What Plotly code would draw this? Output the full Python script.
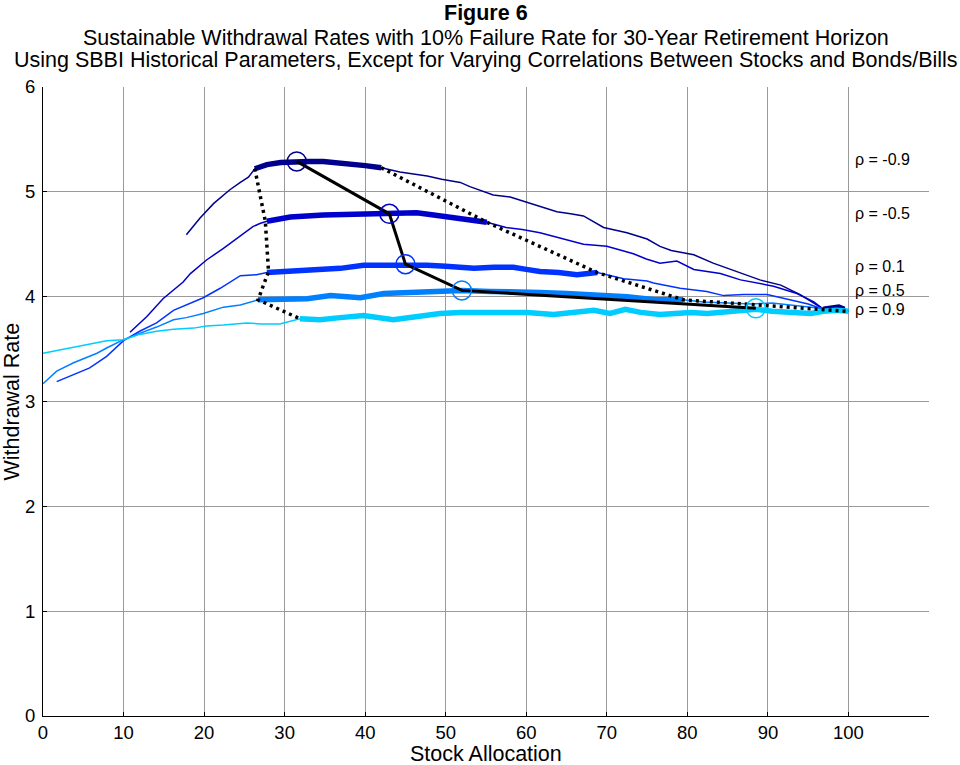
import plotly.graph_objects as go

# ---------------- data ----------------
labels = ["ρ = -0.9", "ρ = -0.5", "ρ = 0.1", "ρ = 0.5", "ρ = 0.9"]
label_y = [5.31, 4.79, 4.29, 4.06, 3.88]
colors = ["#00008C", "#0000CC", "#0033FF", "#0080FF", "#00CCFF"]

m09_x = [17.8, 19.5, 21.2, 23.2, 24.5, 25.5, 26.3, 27.8, 29.5, 31.5, 33, 34.8, 36.5, 38.1, 40, 42,
         44.3, 46, 47.7, 49.5, 51.8, 53, 55.9, 58, 60.9, 63.8, 65.5, 67.1, 69.6, 72.5, 75, 76.6,
         78, 79.5, 80.8, 83.2, 86.2, 89, 91.6, 94, 96.1, 96.9, 97.8, 98.8, 99.5, 100]
m09_y = [4.59, 4.75, 4.89, 5.02, 5.09, 5.14, 5.22, 5.26, 5.28, 5.29, 5.29, 5.29, 5.28, 5.27, 5.25, 5.23,
         5.19, 5.17, 5.15, 5.12, 5.09, 5.05, 4.97, 4.95, 4.88, 4.81, 4.79, 4.77, 4.66, 4.61, 4.55, 4.48,
         4.44, 4.42, 4.40, 4.32, 4.24, 4.16, 4.11, 4.02, 3.92, 3.88, 3.89, 3.90, 3.88, 3.86]

m05_x = [10.8, 12.9, 14.9, 17.4, 18.3, 20.3, 22.4, 24.5, 26.1, 27, 27.8, 30.7, 34.8, 38.9, 40.5, 43,
         46.4, 48.5, 50.1, 52.5, 55.1, 57.5, 59.5, 61.7, 64.2, 67.1, 70, 73.3, 74.9, 76.6, 78.7, 80.8,
         84.1, 86.6, 90.7, 93.6, 95.7, 96.7, 97.8, 98.8, 99.5, 100]
m05_y = [3.66, 3.81, 3.98, 4.14, 4.22, 4.35, 4.46, 4.58, 4.67, 4.70, 4.72, 4.76, 4.78, 4.79, 4.79, 4.80,
         4.80, 4.78, 4.76, 4.74, 4.71, 4.66, 4.64, 4.61, 4.56, 4.50, 4.48, 4.41, 4.36, 4.32, 4.34, 4.26,
         4.22, 4.16, 4.10, 4.03, 3.95, 3.89, 3.89, 3.90, 3.88, 3.86]

p01_x = [1.7, 3.8, 5.8, 7.9, 10, 12, 14.1, 16.2, 18.3, 19.9, 22, 24.5, 26.5, 27.8, 30, 32.8, 35, 36.9,
         39.8, 42.3, 45, 47.7, 50, 51.8, 53.5, 56, 58.4, 60, 61.7, 64, 66.3, 68.8, 70.5, 72.1, 75, 75.8,
         79.1, 82.4, 84.5, 87, 89.9, 92.8, 95, 96.5, 97.8, 98.8, 99.5, 100]
p01_y = [3.19, 3.26, 3.32, 3.43, 3.58, 3.67, 3.75, 3.87, 3.94, 3.99, 4.08, 4.20, 4.21, 4.23, 4.24, 4.25, 4.26, 4.27,
         4.30, 4.30, 4.31, 4.30, 4.29, 4.28, 4.27, 4.28, 4.28, 4.26, 4.24, 4.23, 4.21, 4.23, 4.20, 4.17, 4.15, 4.13,
         4.08, 4.05, 4.01, 4.02, 4.02, 3.97, 3.93, 3.89, 3.89, 3.90, 3.88, 3.86]

p05_x = [0, 1.7, 3.8, 5, 6.7, 7.9, 10, 12, 14.1, 16.2, 17.8, 19.9, 22.4, 24.5, 26.7, 28, 29.9, 32.8,
         35.7, 37.5, 39.4, 42.3, 46.4, 50, 52, 55.5, 58, 61.7, 65, 68, 72.5, 76, 79.5, 82, 85, 88,
         90.5, 93, 96.5, 98, 99, 100]
p05_y = [3.17, 3.29, 3.37, 3.41, 3.46, 3.51, 3.59, 3.65, 3.71, 3.78, 3.80, 3.84, 3.90, 3.92, 3.97, 3.97, 3.97, 3.98,
         4.01, 4.00, 3.99, 4.03, 4.04, 4.05, 4.06, 4.05, 4.05, 4.04, 4.03, 4.02, 4.00, 3.97, 3.97, 3.95, 3.94, 3.93,
         3.94, 3.92, 3.89, 3.89, 3.90, 3.87]

p09_x = [0, 2.1, 3.8, 5.8, 7.9, 10, 12, 14.1, 16.2, 18.7, 20.3, 22.4, 24.5, 25.3, 27, 29.4, 31.9, 34.4,
         36.9, 39.8, 43.5, 46.8, 49.3, 51.8, 56.8, 60.1, 63.4, 66, 68.4, 70.4, 72.3, 74.2, 76.6, 78.5,
         80.4, 82.5, 84.5, 86.5, 88.5, 90.5, 92.8, 95.3, 96.9, 98.5, 100]
p09_y = [3.46, 3.49, 3.52, 3.55, 3.58, 3.59, 3.64, 3.67, 3.69, 3.70, 3.72, 3.73, 3.74, 3.75, 3.74, 3.74, 3.79, 3.78,
         3.80, 3.82, 3.78, 3.82, 3.84, 3.85, 3.85, 3.85, 3.83, 3.85, 3.87, 3.84, 3.88, 3.85, 3.83, 3.84,
         3.85, 3.84, 3.85, 3.86, 3.88, 3.86, 3.85, 3.84, 3.86, 3.87, 3.86]

curves_x = [m09_x, m05_x, p01_x, p05_x, p09_x]
curves_y = [m09_y, m05_y, p01_y, p05_y, p09_y]

# ranges of stock allocation drawn with a thick line
thick_ranges = [[(26.3, 42.0), (96.9, 99.5)],
                [(27.8, 55.1)],
                [(27.8, 68.8)],
                [(26.7, 79.5)],
                [(31.9, 100)]]

# optimum points (circles)
opt_x = [31.5, 43, 45, 52, 88.5]
opt_y = [5.29, 4.79, 4.31, 4.06, 3.89]

# boundaries of the thick ranges (dotted)
lb_x = [26.3, 27.6, 28.0, 26.7, 31.9]
lb_y = [5.22, 4.72, 4.24, 3.97, 3.79]
rb_x = [42.0, 55.1, 68.8, 79.5, 100]
rb_y = [5.23, 4.71, 4.23, 3.97, 3.86]

x_ticks = list(range(0, 101, 10))
y_ticks = list(range(0, 7))

# ---------------- figure ----------------
FONT = "Liberation Sans, Arial, sans-serif"
fig = go.Figure()

for cx, cy, col in zip(curves_x, curves_y, colors):
    fig.add_trace(go.Scatter(x=cx, y=cy, mode="lines",
                             line=dict(color=col, width=1.5), hoverinfo="skip"))

for cx, cy, col, rngs in zip(curves_x, curves_y, colors, thick_ranges):
    for lo, hi in rngs:
        sx = [a for a in cx if lo <= a <= hi]
        sy = [b for a, b in zip(cx, cy) if lo <= a <= hi]
        fig.add_trace(go.Scatter(x=sx, y=sy, mode="lines",
                                 line=dict(color=col, width=5.5), hoverinfo="skip"))

fig.add_trace(go.Scatter(x=lb_x, y=lb_y, mode="lines",
                         line=dict(color="black", width=3.5, dash="3px,4px"), hoverinfo="skip"))
fig.add_trace(go.Scatter(x=rb_x, y=rb_y, mode="lines",
                         line=dict(color="black", width=3.5, dash="3px,4px"), hoverinfo="skip"))
fig.add_trace(go.Scatter(x=opt_x, y=opt_y, mode="lines",
                         line=dict(color="black", width=3), hoverinfo="skip"))
fig.add_trace(go.Scatter(x=opt_x, y=opt_y, mode="markers",
                         marker=dict(symbol="circle-open", size=19, color=colors,
                                     line=dict(width=1.5, color=colors)),
                         hoverinfo="skip"))

annotations = []
for lab, ly in zip(labels, label_y):
    annotations.append(dict(x=100.6, y=ly, xref="x", yref="y", text=lab, showarrow=False,
                            xanchor="left", yanchor="middle",
                            font=dict(family=FONT, size=16, color="black")))

TS = 21.5
annotations += [
    dict(x=0.5, y=1.118, xref="paper", yref="paper", text="<b>Figure 6</b>", showarrow=False,
         xanchor="center", yanchor="middle", font=dict(family=FONT, size=TS, color="black")),
    dict(x=0.5, y=1.078, xref="paper", yref="paper",
         text="Sustainable Withdrawal Rates with 10% Failure Rate for 30-Year Retirement Horizon",
         showarrow=False, xanchor="center", yanchor="middle",
         font=dict(family=FONT, size=TS, color="black")),
    dict(x=0.5, y=1.043, xref="paper", yref="paper",
         text="Using SBBI Historical Parameters, Except for Varying Correlations Between Stocks and Bonds/Bills",
         showarrow=False, xanchor="center", yanchor="middle",
         font=dict(family=FONT, size=TS, color="black")),
    dict(x=0.5, y=-0.06, xref="paper", yref="paper", text="Stock Allocation", showarrow=False,
         xanchor="center", yanchor="middle", font=dict(family=FONT, size=TS, color="black")),
    dict(x=-0.035, y=0.5, xref="paper", yref="paper", text="Withdrawal Rate", showarrow=False,
         textangle=-90, xanchor="center", yanchor="middle",
         font=dict(family=FONT, size=TS, color="black")),
]

fig.update_layout(
    width=960, height=765,
    margin=dict(l=43, r=31, t=87, b=49, pad=0),
    paper_bgcolor="white", plot_bgcolor="white",
    showlegend=False,
    annotations=annotations,
    font=dict(family=FONT, size=18, color="black"),
)
fig.update_xaxes(range=[0, 110], tickvals=x_ticks, ticktext=[str(v) for v in x_ticks],
                 showgrid=True, gridcolor="#9a9a9a", gridwidth=1,
                 showline=True, linecolor="black", linewidth=1,
                 ticks="inside", ticklen=4, tickcolor="black",
                 zeroline=False, tickfont=dict(family=FONT, size=18.5), ticklabelstandoff=0)
fig.update_yaxes(range=[0, 6], tickvals=y_ticks, ticktext=[str(v) for v in y_ticks],
                 showgrid=True, gridcolor="#9a9a9a", gridwidth=1,
                 showline=True, linecolor="black", linewidth=1,
                 ticks="inside", ticklen=4, tickcolor="black",
                 zeroline=False, tickfont=dict(family=FONT, size=18.5), ticklabelstandoff=3)

fig.write_html("out.html")
